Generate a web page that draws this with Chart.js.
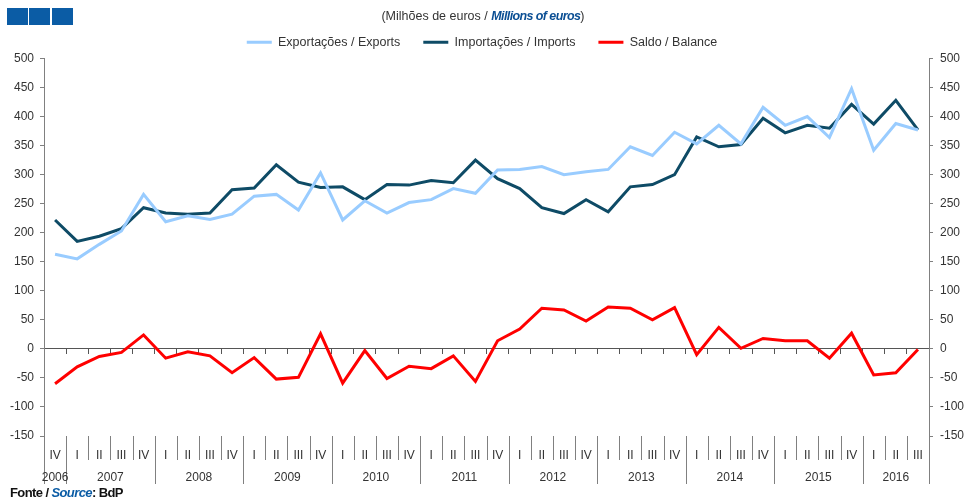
<!DOCTYPE html>
<html>
<head>
<meta charset="utf-8">
<script src="https://cdn.jsdelivr.net/npm/chart.js@4"></script>
<style>
  body { margin: 0; background: #fff; font-family: "Liberation Sans", Arial, sans-serif; }
  #wrap { position: relative; width: 964px; height: 500px; }
  .sq { position: absolute; top: 8px; width: 21px; height: 17px; background: #0b5ca5; }
  #sub { position: absolute; top: 9px; left: 0; width: 966px; text-align: center; font-size: 12.5px; color: #333; }
  #sub b { color: #0b4f94; font-style: italic; letter-spacing: -0.6px; }
  #src { position: absolute; left: 10px; top: 485px; font-size: 13px; font-weight: bold; color: #111; letter-spacing: -0.6px; }
  #src i { color: #0b5ca5; }
</style>
</head>
<body>
<div id="wrap">
  <canvas id="c" width="964" height="500"></canvas>
  <div class="sq" style="left:7px"></div>
  <div class="sq" style="left:29px"></div>
  <div class="sq" style="left:52px"></div>
  <div id="sub">(Milhões de euros / <b>Millions of euros</b>)</div>
  <div id="src">Fonte / <i>Source</i>: BdP</div>
</div>
<script>
const categories = [
  '2006 IV',
  '2007 I', '2007 II', '2007 III', '2007 IV',
  '2008 I', '2008 II', '2008 III', '2008 IV',
  '2009 I', '2009 II', '2009 III', '2009 IV',
  '2010 I', '2010 II', '2010 III', '2010 IV',
  '2011 I', '2011 II', '2011 III', '2011 IV',
  '2012 I', '2012 II', '2012 III', '2012 IV',
  '2013 I', '2013 II', '2013 III', '2013 IV',
  '2014 I', '2014 II', '2014 III', '2014 IV',
  '2015 I', '2015 II', '2015 III', '2015 IV',
  '2016 I', '2016 II', '2016 III'
];
const exportsData = [163, 155, 180, 203, 266, 219, 229, 223, 232, 263, 266, 239, 303, 222, 255, 234, 252, 257, 276, 268,
                     308, 309, 314, 300, 305, 309, 348, 333, 373, 353, 385, 353, 416, 385, 400, 364, 448, 342, 388, 377];
const importsData = [222, 185, 194, 207, 243, 234, 232, 234, 274, 277, 317, 287, 278, 279, 257, 283, 282, 290, 286, 325,
                     293, 276, 243, 233, 257, 236, 279, 283, 300, 365, 348, 352, 397, 372, 385, 380, 421, 387, 428, 377];
const balanceData = [-60, -31, -13, -6, 24, -16, -5, -12, -41, -15, -52, -49, 26, -59, -3, -51, -30, -34, -12, -56,
                     14, 34, 70, 67, 48, 72, 70, 50, 71, -10, 37, 1, 18, 14, 14, -16, 27, -45, -41, -1];
const yTicks = { min: -150, max: 500, step: 50 };

const axisGrey = '#808080';
const font = { family: '"Liberation Sans", Arial, sans-serif', size: 12 };

// quarter separators, year labels and axis extensions below the plot
const bottomAxis = {
  id: 'bottomAxis',
  afterDraw(chart) {
    const { ctx, chartArea: a, scales: { x } } = chart;
    const w = (a.right - a.left) / categories.length;
    ctx.save();
    ctx.strokeStyle = axisGrey;
    ctx.lineWidth = 1;
    for (let i = 0; i <= categories.length; i++) {
      const px = Math.round(a.left + i * w) + 0.5;
      const q = i < categories.length ? categories[i].split(' ')[1] : 'I';
      const long = q === 'I' || i === 0;
      ctx.beginPath();
      ctx.moveTo(px, a.bottom);
      ctx.lineTo(px, long ? 484 : 460);
      ctx.stroke();
    }
    // year labels centred over their quarters
    ctx.fillStyle = '#333';
    ctx.font = `${font.size}px ${font.family}`;
    ctx.textAlign = 'center';
    ctx.textBaseline = 'middle';
    const groups = {};
    categories.forEach((c, i) => {
      const y = c.split(' ')[0];
      (groups[y] = groups[y] || []).push(i);
    });
    Object.keys(groups).forEach(y => {
      const idx = groups[y];
      const cx = (x.getPixelForValue(idx[0]) + x.getPixelForValue(idx[idx.length - 1])) / 2;
      ctx.fillText(y, cx, 478);
    });
    ctx.restore();
  }
};

new Chart(document.getElementById('c'), {
  type: 'line',
  data: {
    labels: categories,
    datasets: [
      { label: 'Exportações / Exports', data: exportsData, borderColor: '#99ccff', backgroundColor: '#99ccff', borderWidth: 3 },
      { label: 'Importações / Imports', data: importsData, borderColor: '#0e4b66', backgroundColor: '#0e4b66', borderWidth: 3 },
      { label: 'Saldo / Balance', data: balanceData, borderColor: '#ff0000', backgroundColor: '#ff0000', borderWidth: 3 },
    ],
  },
  options: {
    responsive: false,
    animation: false,
    layout: { padding: { top: 13 } },
    elements: { point: { radius: 0 }, line: { tension: 0 } },
    plugins: {
      legend: {
        labels: {
          font: { ...font, size: 12.5 }, color: '#333', boxWidth: 25, boxHeight: 3, padding: 23,
          generateLabels: chart => Chart.defaults.plugins.legend.labels.generateLabels(chart)
            .map(l => ({ ...l, lineWidth: 0 })),
        },
      },
      tooltip: { enabled: false },
    },
    scales: {
      x: {
        offset: true,
        grid: { display: false },
        border: { display: false },
        ticks: {
          font, color: '#333', padding: 4, maxRotation: 0, autoSkip: false,
          callback: (v, i) => categories[i].split(' ')[1],
        },
        afterFit: s => { s.height = 64; },
      },
      x2: {
        type: 'category',
        labels: categories,
        position: { y: 0 },
        offset: true,
        grid: { offset: true, drawOnChartArea: false, tickLength: 5, color: '#555' },
        border: { color: '#555' },
        ticks: { display: false },
      },
      y: {
        min: yTicks.min, max: yTicks.max,
        ticks: { stepSize: yTicks.step, font, color: '#333', padding: 6 },
        grid: { drawOnChartArea: false, tickLength: 4, color: axisGrey },
        border: { color: axisGrey },
        afterFit: s => { s.width = 44; },
      },
      y2: {
        position: 'right',
        min: yTicks.min, max: yTicks.max,
        ticks: { stepSize: yTicks.step, font, color: '#333', padding: 7 },
        grid: { drawOnChartArea: false, tickLength: 4, color: axisGrey },
        border: { color: axisGrey },
        afterFit: s => { s.width = 35; },
      },
    },
  },
  plugins: [bottomAxis],
});
</script>
</body>
</html>
